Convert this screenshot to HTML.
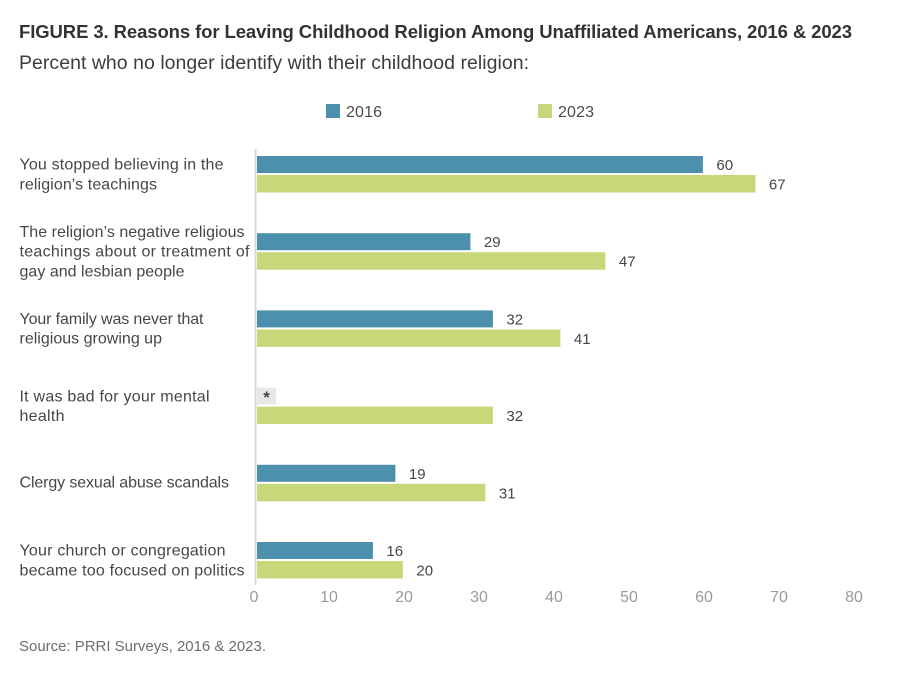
<!DOCTYPE html>
<html lang="en">
<head>
<meta charset="utf-8">
<title>Reasons for Leaving Childhood Religion</title>
<style>
html,body{margin:0;padding:0;background:#fff;}
svg{display:block;font-family:"Liberation Sans",sans-serif;}
.cat{font-size:16px;fill:#474747;}
</style>
</head>
<body>
<svg id="chart" width="900" height="687" viewBox="0 0 900 687" xmlns="http://www.w3.org/2000/svg">
  <rect width="900" height="687" fill="#ffffff"/>
  <text x="19" y="38" font-size="18.5" font-weight="700" fill="#333333" textLength="833" lengthAdjust="spacing">FIGURE 3. Reasons for Leaving Childhood Religion Among Unaffiliated Americans, 2016 &amp; 2023</text>
  <text x="19" y="69" font-size="19.5" fill="#3d3d3d" textLength="510" lengthAdjust="spacing">Percent who no longer identify with their childhood religion:</text>
  <rect x="326" y="104" width="14" height="14" fill="#4d90ae"/>
  <text x="346" y="117" font-size="16" fill="#4a4a4a" textLength="36" lengthAdjust="spacing">2016</text>
  <rect x="538" y="104" width="14" height="14" fill="#c6d879"/>
  <text x="558" y="117" font-size="16" fill="#4a4a4a" textLength="36" lengthAdjust="spacing">2023</text>
  <rect x="254.5" y="149" width="2" height="436" fill="#d9d9d9"/>
  <g>
    <text class="cat" x="19.5" y="169.7" textLength="204" lengthAdjust="spacing">You stopped believing in the</text>
    <text class="cat" x="19.5" y="189.3" textLength="137.5" lengthAdjust="spacing">religion’s teachings</text>
    <text class="cat" x="19.5" y="237.1" textLength="225" lengthAdjust="spacing">The religion’s negative religious</text>
    <text class="cat" x="19.5" y="256.7" textLength="230" lengthAdjust="spacing">teachings about or treatment of</text>
    <text class="cat" x="19.5" y="276.3" textLength="165" lengthAdjust="spacing">gay and lesbian people</text>
    <text class="cat" x="19.5" y="324.1" textLength="184" lengthAdjust="spacing">Your family was never that</text>
    <text class="cat" x="19.5" y="343.7" textLength="142.5" lengthAdjust="spacing">religious growing up</text>
    <text class="cat" x="19.5" y="401.3" textLength="190" lengthAdjust="spacing">It was bad for your mental</text>
    <text class="cat" x="19.5" y="420.9" textLength="45" lengthAdjust="spacing">health</text>
    <text class="cat" x="19.5" y="487.7" textLength="209.5" lengthAdjust="spacing">Clergy sexual abuse scandals</text>
    <text class="cat" x="19.5" y="555.7" textLength="206" lengthAdjust="spacing">Your church or congregation</text>
    <text class="cat" x="19.5" y="575.3" textLength="225" lengthAdjust="spacing">became too focused on politics</text>
  </g>
  <g id="plot"></g>
  <g id="x-axis"></g>
  <text x="19" y="651" font-size="15" fill="#6e6e6e" textLength="247" lengthAdjust="spacing">Source: PRRI Surveys, 2016 &amp; 2023.</text>
</svg>
<script>
const categories = ["Stopped believing", "Negative teachings", "Never that religious", "Mental health", "Clergy abuse", "Too political"];
const values2016 = [60, 29, 32, null, 19, 16];
const values2023 = [67, 47, 41, 32, 31, 20];
const xTicks = [0, 10, 20, 30, 40, 50, 60, 70, 80];

const NS = "http://www.w3.org/2000/svg";
const plot = document.getElementById("plot");
const xAxisGroup = document.getElementById("x-axis");

function xBar(v) { return 252.9 + v * 7.5; }
function xTick(v) { return 254 + v * 7.5; }
function rowCenter(i) { return 174 + i * 77.2; }

function make(tag, attrs, parent, text) {
  const el = document.createElementNS(NS, tag);
  for (const k in attrs) el.setAttribute(k, attrs[k]);
  if (text !== undefined) el.textContent = text;
  parent.appendChild(el);
  return el;
}

categories.forEach(function (name, i) {
  const c = rowCenter(i);

  const v16 = values2016[i];
  if (v16 === null) {
    const box = make("rect", { x: 257, y: c - 18, width: 19, height: 17, fill: "#e8e8e8" }, plot);
    
    
    const star = make("text", { x: 266.5, y: c - 2.5, "font-size": 17, "font-weight": 700, "text-anchor": "middle", fill: "#474747" }, plot, "*");
    
    
  } else {
    const b = make("rect", { x: 257, y: c - 18, width: xBar(v16) - 257, height: 17, fill: "#4d90ae" }, plot);
    
    
    const l = make("text", { x: xBar(v16) + 13.5, y: c - 4, "font-size": 15, fill: "#474747" }, plot, String(v16));
    
    
  }

  const v23 = values2023[i];
  const b2 = make("rect", { x: 257, y: c + 1, width: xBar(v23) - 257, height: 17.5, fill: "#c6d879" }, plot);
  
  
  const l2 = make("text", { x: xBar(v23) + 13.5, y: c + 15.5, "font-size": 15, fill: "#474747" }, plot, String(v23));
  
  
});

xTicks.forEach(function (v) {
  const t = make("text", { x: xTick(v), y: 602, "font-size": 16, "text-anchor": "middle", fill: "#9a9a9a" }, xAxisGroup, String(v));
  
  
});
</script>
</body>
</html>
